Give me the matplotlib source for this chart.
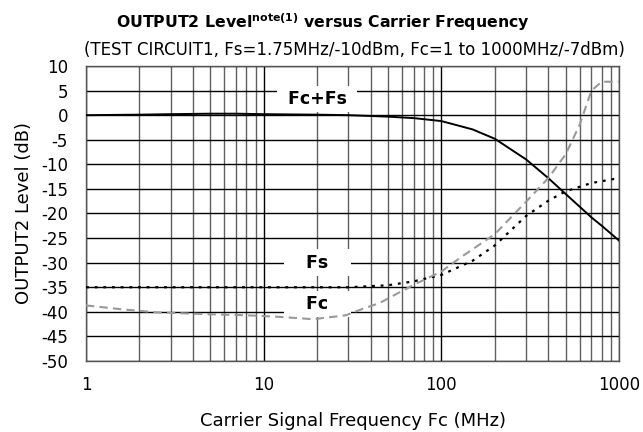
import matplotlib
matplotlib.use("Agg")
import matplotlib.pyplot as plt
from matplotlib.ticker import FixedLocator, NullFormatter, LogLocator

plt.rcParams['font.family'] = ['DejaVu Sans']
plt.rcParams['mathtext.fontset'] = 'custom'
plt.rcParams['mathtext.rm'] = 'DejaVu Sans'
plt.rcParams['mathtext.bf'] = 'DejaVu Sans:bold'

# Fc+Fs (solid black)
fcfs_f = [1, 2, 3, 5, 7, 10, 20, 30, 50, 70, 100, 150, 200, 300, 400, 500, 600, 700, 800, 1000]
fcfs_db = [0, 0.1, 0.2, 0.3, 0.3, 0.2, 0.1, 0.0, -0.3, -0.6, -1.2, -2.9, -4.8, -9.0, -12.8, -16.0, -18.6, -20.8, -22.5, -25.5]

# Fs (dotted black)
fs_f = [1, 10, 30, 50, 70, 100, 150, 200, 300, 400, 500, 700, 1000]
fs_db = [-35, -35, -35, -34.6, -33.8, -32.5, -29.6, -26.5, -20.5, -17.4, -15.5, -13.8, -12.8]

# Fc (dashed gray)
fc_f = [1, 1.6, 2.5, 5, 8, 12, 19, 29, 36, 45, 55, 70, 100, 130, 200, 300, 400, 500, 600, 700, 800, 1000]
fc_db = [-38.7, -39.5, -40.1, -40.5, -40.7, -41.0, -41.5, -40.7, -39.4, -38.2, -36.5, -34.5, -31.8, -28.8,
         -24.2, -17.6, -12.8, -8.0, -2.0, 5.0, 6.8, 6.8]

yticks = list(range(-50, 11, 5))
xticks = [1, 10, 100, 1000]
xticklabels = ['1', '10', '100', '1000']

fig = plt.figure(figsize=(6.43, 4.32), dpi=100)
ax = fig.add_axes([86/643, 1-361/432, (619-86)/643, (361-66)/432])

ax.set_xscale('log')
ax.set_xlim(1, 1000)
ax.set_ylim(-50, 10)
ax.set_yticks(yticks)
ax.set_yticklabels([str(v) for v in yticks])
ax.xaxis.set_major_locator(FixedLocator(xticks))
ax.set_xticklabels(xticklabels)
ax.xaxis.set_minor_locator(LogLocator(base=10, subs=range(2, 10)))
ax.xaxis.set_minor_formatter(NullFormatter())

ax.grid(True, which='major', axis='both', color='black', linewidth=1.0, zorder=1)
ax.grid(True, which='minor', axis='x', color='#606060', linewidth=1.0, zorder=1)
ax.set_axisbelow(True)

ax.tick_params(axis='both', which='both', length=0, labelsize=12)
ax.tick_params(axis='y', pad=13)
ax.tick_params(axis='x', pad=11)
for s in ax.spines.values():
    s.set_color('#555555')
    s.set_linewidth(1.0)

ax.plot(fcfs_f, fcfs_db, color='black', linewidth=1.4, zorder=4)
ax.plot(fs_f, fs_db, color='black', linewidth=1.6, linestyle=(0, (1.3, 2.6)), zorder=4)
ax.plot(fc_f, fc_db, color='#999999', linewidth=1.5, linestyle=(0, (4, 2.5)), zorder=4)

box = dict(boxstyle='square,pad=0.25', facecolor='white', edgecolor='none')
ax.text(20, 3.3, ' Fc+Fs ', fontsize=12.5, fontweight='bold', ha='center', va='center', bbox=box, zorder=3)
ax.text(20, -30, '   Fs   ', fontsize=12.5, fontweight='bold', ha='center', va='center', bbox=box, zorder=3)
ax.text(20, -38.4, '   Fc   ', fontsize=12.5, fontweight='bold', ha='center', va='center', bbox=box, zorder=3)

ax.set_ylabel('OUTPUT2 Level (dB)', fontsize=13, labelpad=6)
ax.set_xlabel('Carrier Signal Frequency Fc (MHz)', fontsize=13, labelpad=13)

fig.text(0.502, 1-28/432, r'OUTPUT2 Level$^{\mathbf{note(1)}}$ versus Carrier Frequency',
         fontsize=11.3, fontweight='bold', ha='center', va='baseline')
fig.text(354/643, 1-55/432, '(TEST CIRCUIT1, Fs=1.75MHz/-10dBm, Fc=1 to 1000MHz/-7dBm)',
         fontsize=12, ha='center', va='baseline')

fig.savefig('out.png', dpi=100)
